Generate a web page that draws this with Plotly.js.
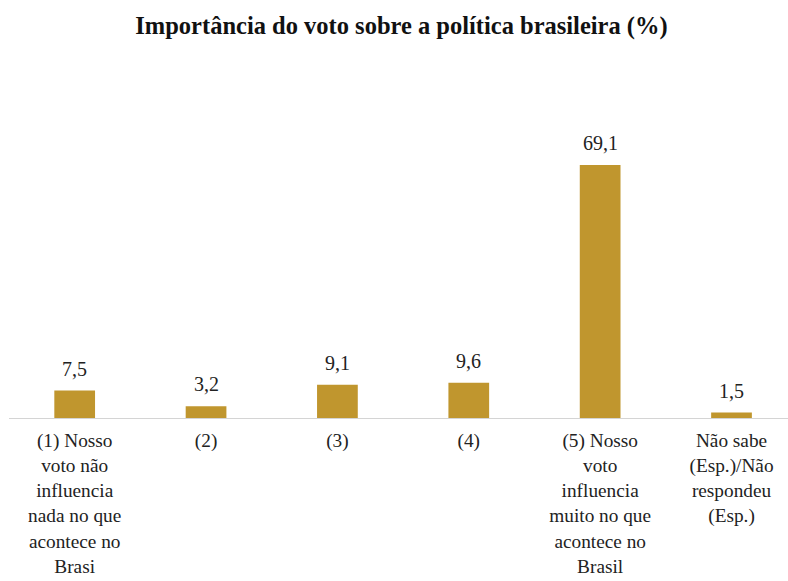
<!DOCTYPE html>
<html>
<head>
<meta charset="utf-8">
<script src="https://cdn.plot.ly/plotly-3.0.1.min.js"></script>
<style>html,body{margin:0;padding:0;background:#fff;}#chart{width:788px;height:581px;}</style>
</head>
<body>
<div id="chart"></div>
<script>
var categories = [
  "(1) Nosso<br>voto não<br>influencia<br>nada no que<br>acontece no<br>Brasi",
  "(2)",
  "(3)",
  "(4)",
  "(5) Nosso<br>voto<br>influencia<br>muito no que<br>acontece no<br>Brasil",
  "Não sabe<br>(Esp.)/Não<br>respondeu<br>(Esp.)"
];
var values = [7.5, 3.2, 9.1, 9.6, 69.1, 1.5];
var valueLabels = ["7,5", "3,2", "9,1", "9,6", "69,1", "1,5"];
var titleText = "Importância do voto sobre a política brasileira (%)";

var positions = categories.map(function(_, i){ return i; });
var SERIF = 'Liberation Serif';

var trace = {
  type: 'bar',
  x: positions,
  y: values,
  width: 0.31,
  marker: {color: '#C0962E', line: {width: 0}},
  hoverinfo: 'skip'
};

var annotations = positions.map(function(p, i){
  return {
    x: p, y: values[i], xref: 'x', yref: 'y',
    text: valueLabels[i], showarrow: false,
    yanchor: 'bottom', yshift: 9,
    font: {family: SERIF, size: 20, color: '#222'}
  };
});

var layout = {
  width: 788, height: 581,
  paper_bgcolor: '#fff', plot_bgcolor: '#fff',
  margin: {l: 9, r: 0, t: 60, b: 163},
  showlegend: false,
  title: {
    text: '<b>' + titleText + '</b>',
    xref: 'container', yref: 'container',
    x: 0.5095, y: 0.957, xanchor: 'center', yanchor: 'middle',
    font: {family: SERIF, size: 24.5, color: '#111'}
  },
  xaxis: {
    range: [-0.5, 5.43],
    tickmode: 'array', tickvals: positions, ticktext: categories,
    showline: true, linecolor: '#d4d4d4', linewidth: 1,
    showgrid: false, zeroline: false, ticks: '',
    ticklabelstandoff: 5,
    tickfont: {family: SERIF, size: 19.3, color: '#222'},
    fixedrange: true
  },
  yaxis: {
    range: [0, 97.8], visible: false, showgrid: false, zeroline: false, fixedrange: true
  },
  annotations: annotations
};

Plotly.newPlot('chart', [trace], layout, {displayModeBar: false, staticPlot: true});
</script>
</body>
</html>
